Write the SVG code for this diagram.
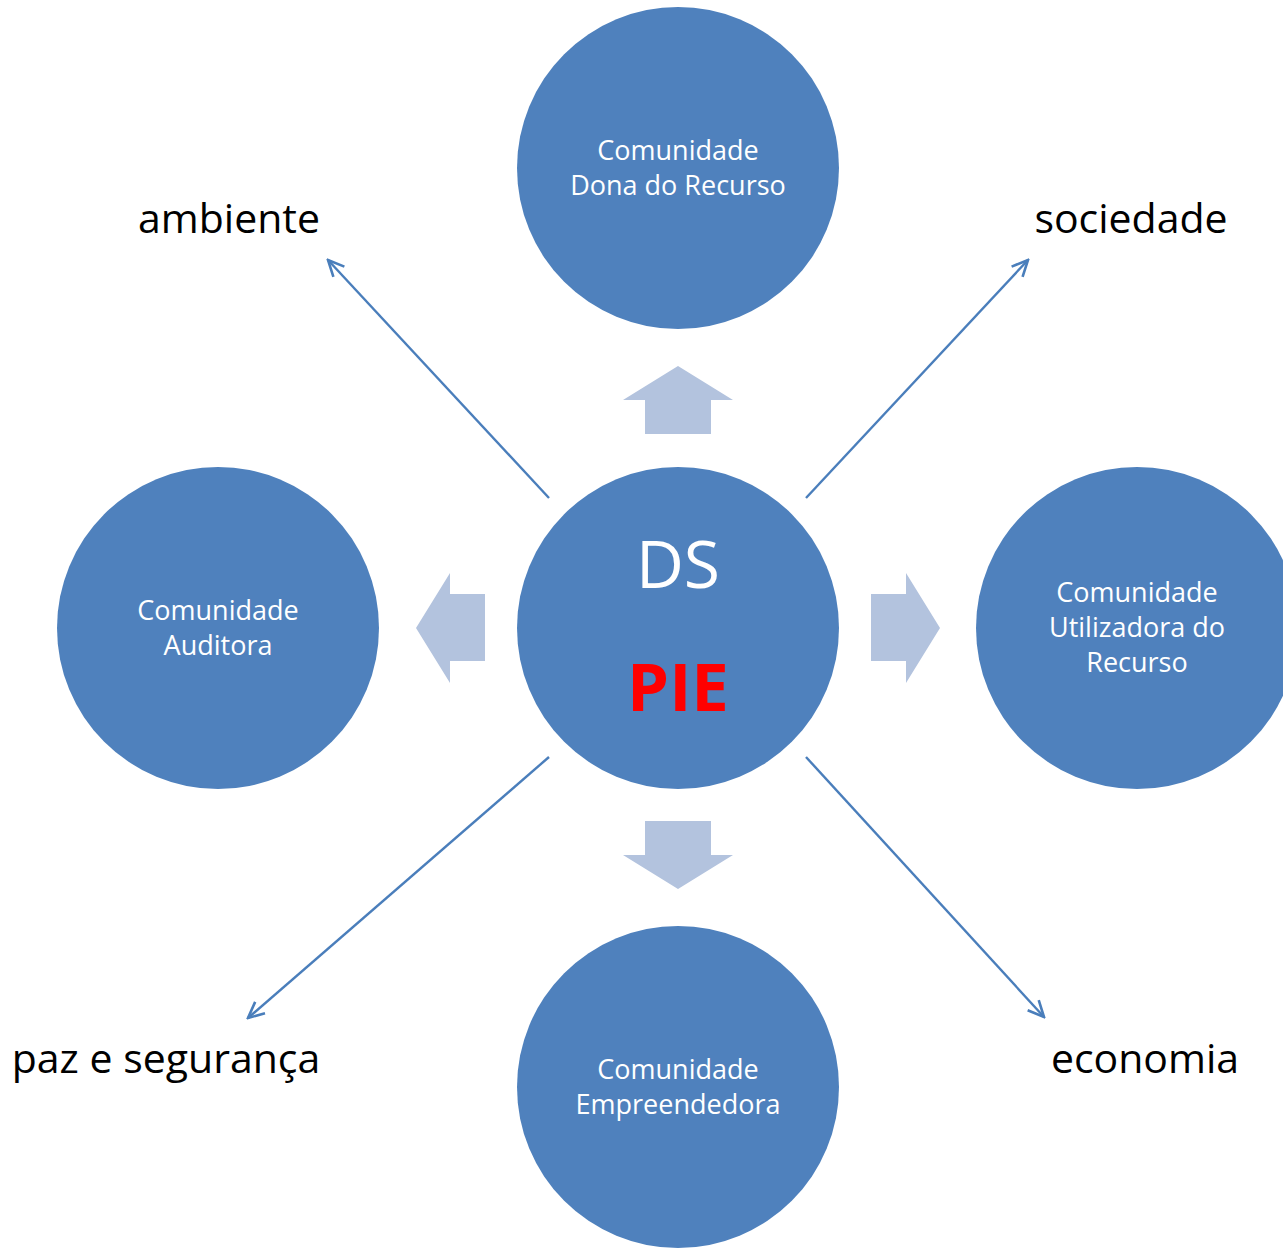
<svg xmlns="http://www.w3.org/2000/svg" width="1283" height="1248" viewBox="0 0 1283 1248">
<defs>
<style>
.c{fill:#4F81BD}
.t{font-family:"Open Sans","Liberation Sans",sans-serif;font-size:27px;fill:#fff;text-anchor:middle}
.l{font-family:"Open Sans","Liberation Sans",sans-serif;font-size:41px;fill:#000;text-anchor:middle}
.blk{fill:#B3C3DE}
.ln{stroke:#4A7EBB;stroke-width:2.4;fill:none}
</style>
<marker id="ah" viewBox="0 0 20 20" refX="18" refY="10" markerWidth="20" markerHeight="20" markerUnits="userSpaceOnUse" orient="auto">
<polyline points="2,2.5 18,10 2,17.5" fill="none" stroke="#4A7EBB" stroke-width="2.6"/>
</marker>
</defs>
<rect width="1283" height="1248" fill="#fff"/>
<g id="connectors">
<polygon class="blk" points="678,366 733,400 711,400 711,434 645,434 645,400 623,400"/>
<polygon class="blk" points="678,889 733,855 711,855 711,821 645,821 645,855 623,855"/>
<polygon class="blk" points="416,628 450,573 450,594 485,594 485,661 450,661 450,683"/>
<polygon class="blk" points="940,628 906,573 906,594 871,594 871,661 906,661 906,683"/>
<line class="ln" x1="549" y1="498" x2="328" y2="260" marker-end="url(#ah)"/>
<line class="ln" x1="806" y1="498" x2="1028" y2="260" marker-end="url(#ah)"/>
<line class="ln" x1="549" y1="757" x2="248" y2="1018" marker-end="url(#ah)"/>
<line class="ln" x1="806" y1="757" x2="1044" y2="1017" marker-end="url(#ah)"/>
</g>
<g id="node-top">
<circle class="c" cx="678" cy="168" r="161"/>
<text class="t" x="678" y="160">Comunidade</text>
<text class="t" x="678" y="195">Dona do Recurso</text>
</g>
<g id="node-center">
<circle class="c" cx="678" cy="628" r="161"/>
<text x="678" y="588" font-family="Open Sans, Liberation Sans, sans-serif" font-size="66" fill="#fff" text-anchor="middle">DS</text>
<text x="678" y="711" font-family="Open Sans, Liberation Sans, sans-serif" font-size="67" font-weight="bold" fill="#FF0000" text-anchor="middle">PIE</text>
</g>
<g id="node-left">
<circle class="c" cx="218" cy="628" r="161"/>
<text class="t" x="218" y="620">Comunidade</text>
<text class="t" x="218" y="655">Auditora</text>
</g>
<g id="node-right">
<circle class="c" cx="1137" cy="628" r="161"/>
<text class="t" x="1137" y="602">Comunidade</text>
<text class="t" x="1137" y="637">Utilizadora do</text>
<text class="t" x="1137" y="672">Recurso</text>
</g>
<g id="node-bottom">
<circle class="c" cx="678" cy="1087" r="161"/>
<text class="t" x="678" y="1079">Comunidade</text>
<text class="t" x="678" y="1114">Empreendedora</text>
</g>
<g id="labels">
<text class="l" x="229" y="233">ambiente</text>
<text class="l" x="1131" y="233">sociedade</text>
<text class="l" x="166" y="1073">paz e segurança</text>
<text class="l" x="1145" y="1073">economia</text>
</g>
</svg>
